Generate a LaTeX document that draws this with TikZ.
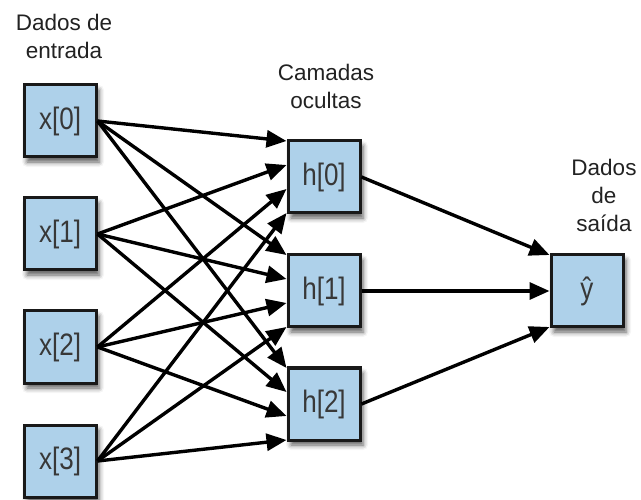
\documentclass[tikz,border=0pt]{standalone}
\usepackage{fontspec}
\setmainfont{Liberation Sans}
\newfontfamily\boxfont[FakeStretch=0.84]{Liberation Sans}
\usetikzlibrary{arrows.meta,shadows.blur,calc}
\definecolor{cellblue}{HTML}{AED1EA}
\definecolor{inkgray}{HTML}{222222}
\tikzset{
  unit/.style={draw=black!90, line width=3pt, fill=cellblue,
    minimum width=72pt, minimum height=72pt, inner sep=0pt,
    text=inkgray!90, font=\boxfont\fontsize{31}{34}\selectfont,
    blur shadow={shadow xshift=3pt, shadow yshift=-5pt,
      shadow blur radius=5pt, shadow opacity=65}},
  caption/.style={align=center, text=inkgray,
    font=\fontsize{22.5}{28}\selectfont},
  link/.style={line width=3.4pt, black,
    -{Triangle[length=20pt,width=17pt]}}
}
\begin{document}
\begin{tikzpicture}[x=1pt,y=-1pt]
\useasboundingbox (0,0) rectangle (641,500);

% input layer
\node[unit] (x0) at (60,121) {x[0]};
\node[unit] (x1) at (60,234) {x[1]};
\node[unit] (x2) at (60,347) {x[2]};
\node[unit] (x3) at (60,461) {x[3]};

% hidden layer
\node[unit] (h0) at (324,177) {h[0]};
\node[unit] (h1) at (324,291) {h[1]};
\node[unit] (h2) at (324,404) {h[2]};

% output
\node[unit] (y) at (587,291) {ŷ};

% captions
\node[caption] (capin) at (64,36) {Dados de\\entrada};
\node[caption] (caphid) at (326,86) {Camadas\\ocultas};
\node[caption] (capout) at (604,195) {Dados\\de\\saída};

% input -> hidden: the four inputs land evenly down each hidden box
\foreach \h in {0,1,2}{
  \draw[link] (x0.east) -- ([yshift=36pt]h\h.west);
  \draw[link] (x1.east) -- ([yshift=12pt]h\h.west);
  \draw[link] (x2.east) -- ([yshift=-12pt]h\h.west);
  \draw[link] (x3.east) -- ([yshift=-36pt]h\h.west);
}

% hidden -> output
\draw[link] (h0.east) -- ([yshift=36pt]y.west);
\draw[link] (h1.east) -- (y.west);
\draw[link] (h2.east) -- ([yshift=-36pt]y.west);
\end{tikzpicture}
\end{document}
